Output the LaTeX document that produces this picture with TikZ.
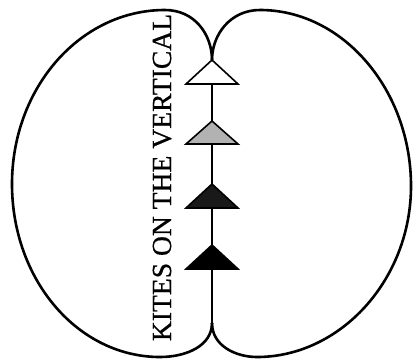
\documentclass[tikz,border=0pt]{standalone}
\usepackage{fontspec}
\setmainfont{Liberation Serif}
\newfontfamily\labelfont[FakeBold=0.6]{Liberation Serif}
\begin{document}
\begin{tikzpicture}[x=1pt,y=-1pt,
  outline/.style={line width=2.6pt, line join=round},
  kite/.style={draw, line width=1.6pt, line join=miter}]
\useasboundingbox (0,0) rectangle (414,359);
\coordinate (topcusp) at (212,60);
\coordinate (botcusp) at (212,323);
\coordinate (k1) at (212,60);
\coordinate (k1b) at (212,84);
\coordinate (k2) at (212,121);
\coordinate (k3) at (212,184);
\coordinate (k4) at (212,245);
% lobes
\draw[outline] (topcusp) .. controls (212,35) and (195,10) .. (165,10)
  .. controls (80,10) and (12,88) .. (12,184)
  .. controls (12,280) and (78,357) .. (160,357)
  .. controls (186,357) and (212,346) .. (botcusp);
\draw[outline] (topcusp) .. controls (212,35) and (230,10) .. (260,10)
  .. controls (343,10) and (411,90) .. (411,186)
  .. controls (411,280) and (340,357) .. (257,357)
  .. controls (236,357) and (212,346) .. (botcusp);
% vertical
\draw[outline] (k1b) -- (botcusp);
% kites
\path[kite, fill=white] (k1) -- ++(26,24) -- ++(-52,0) -- cycle;
\path[kite, fill=black!30] (k2) -- ++(26,23) -- ++(-52,0) -- cycle;
\path[kite, fill=black!90] (k3) -- ++(26,24) -- ++(-52,0) -- cycle;
\path[kite, fill=black] (k4) -- ++(26,24) -- ++(-52,0) -- cycle;
% label
\node[rotate=90, anchor=base, inner sep=0pt, font=\labelfont\fontsize{27.6}{30}\selectfont] (label) at (171,177.5) {KITES ON THE VERTICAL};
\end{tikzpicture}
\end{document}
